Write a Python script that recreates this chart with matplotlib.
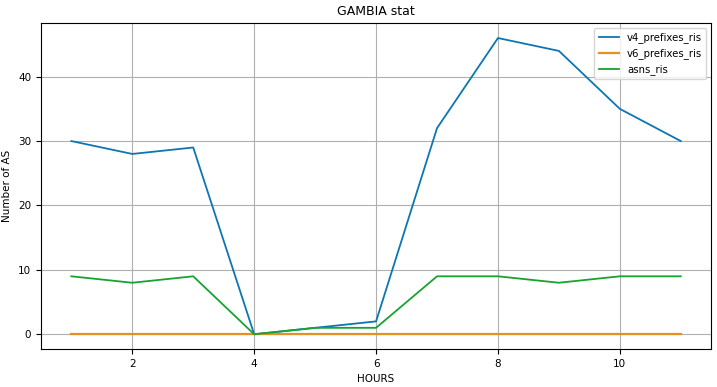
import matplotlib
matplotlib.use("Agg")
import matplotlib.pyplot as plt

hours = [1, 2, 3, 4, 5, 6, 7, 8, 9, 10, 11]
v4_prefixes_ris = [30, 28, 29, 0, 1, 2, 32, 46, 44, 35, 30]
v6_prefixes_ris = [0, 0, 0, 0, 0, 0, 0, 0, 0, 0, 0]
asns_ris = [9, 8, 9, 0, 1, 1, 9, 9, 8, 9, 9]

plt.rcParams['font.size'] = 7.5

fig, ax = plt.subplots(figsize=(7.17, 3.87), dpi=100)
ax.plot(hours, v4_prefixes_ris, color='#0c76b3', linewidth=1.3, label='v4_prefixes_ris')
ax.plot(hours, v6_prefixes_ris, color='#e3911f', linewidth=1.6, label='v6_prefixes_ris')
ax.plot(hours, asns_ris, color='#17a32f', linewidth=1.3, label='asns_ris')
ax.set_title("GAMBIA stat", fontsize=9)
ax.set_xlabel("HOURS", fontsize=7.5)
ax.set_ylabel("Number of AS", fontsize=7.5)
ax.grid(True, color='#b0b0b0', linewidth=0.8)
ax.legend(loc='upper right', fontsize=7.3)
fig.subplots_adjust(left=0.057, right=0.992, top=0.94, bottom=0.098)
fig.savefig("out.png", dpi=100)
